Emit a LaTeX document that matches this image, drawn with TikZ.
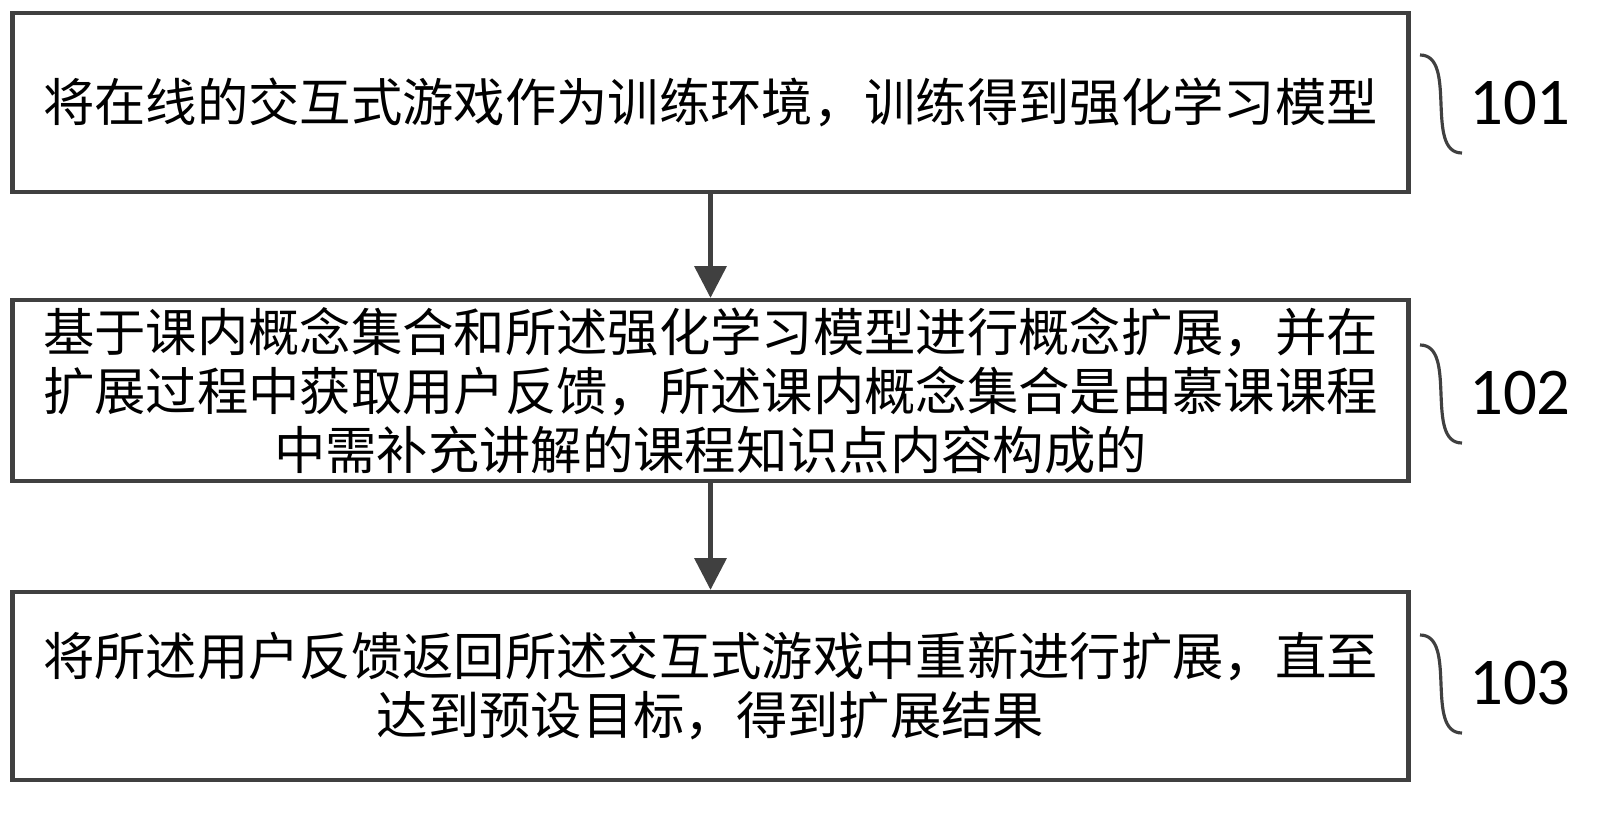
\documentclass[tikz,border=0pt]{standalone}
\usepackage{fontspec}
\setmainfont{Noto Sans CJK SC}
\newfontfamily\numfont{Carlito}
\usetikzlibrary{arrows.meta}
\tikzset{
  stepbox/.style={draw=black!75, line width=1.2pt, minimum width=13.95cm, align=center,
    font=\fontsize{14.6}{16.8}\selectfont, inner sep=0pt},
  flow/.style={draw=black!75, line width=1.2pt, -{Triangle[length=9pt,width=9pt]}},
  wave/.style={draw=black!75, line width=0.9pt},
  steplabel/.style={font=\numfont\fontsize{19}{22}\selectfont}
}
\begin{document}
\begin{tikzpicture}[x=0.01cm,y=-0.01cm]
\useasboundingbox (0,0) rectangle (1624,815);

\node[stepbox, minimum height=1.79cm] (s1) at (710.5,102.5) {将在线的交互式游戏作为训练环境，训练得到强化学习模型};
\node[stepbox, minimum height=1.81cm] (s2) at (710.5,390.5) {基于课内概念集合和所述强化学习模型进行概念扩展，并在\\扩展过程中获取用户反馈，所述课内概念集合是由慕课课程\\中需补充讲解的课程知识点内容构成的};
\node[stepbox, minimum height=1.88cm] (s3) at (710.5,686) {将所述用户反馈返回所述交互式游戏中重新进行扩展，直至\\达到预设目标，得到扩展结果};

\draw[flow] (s1.south) -- (s2.north);
\draw[flow] (s2.south) -- (s3.north);

% squiggles and labels
\foreach \n/\y in {101/103, 102/393, 103/683} {
  \draw[wave] (1420,\y-48) .. controls (1458,\y-48) and (1424,\y+50) .. (1462,\y+50);
  \node[steplabel] (l\n) at (1520,\y) {\n};
}
\end{tikzpicture}
\end{document}
